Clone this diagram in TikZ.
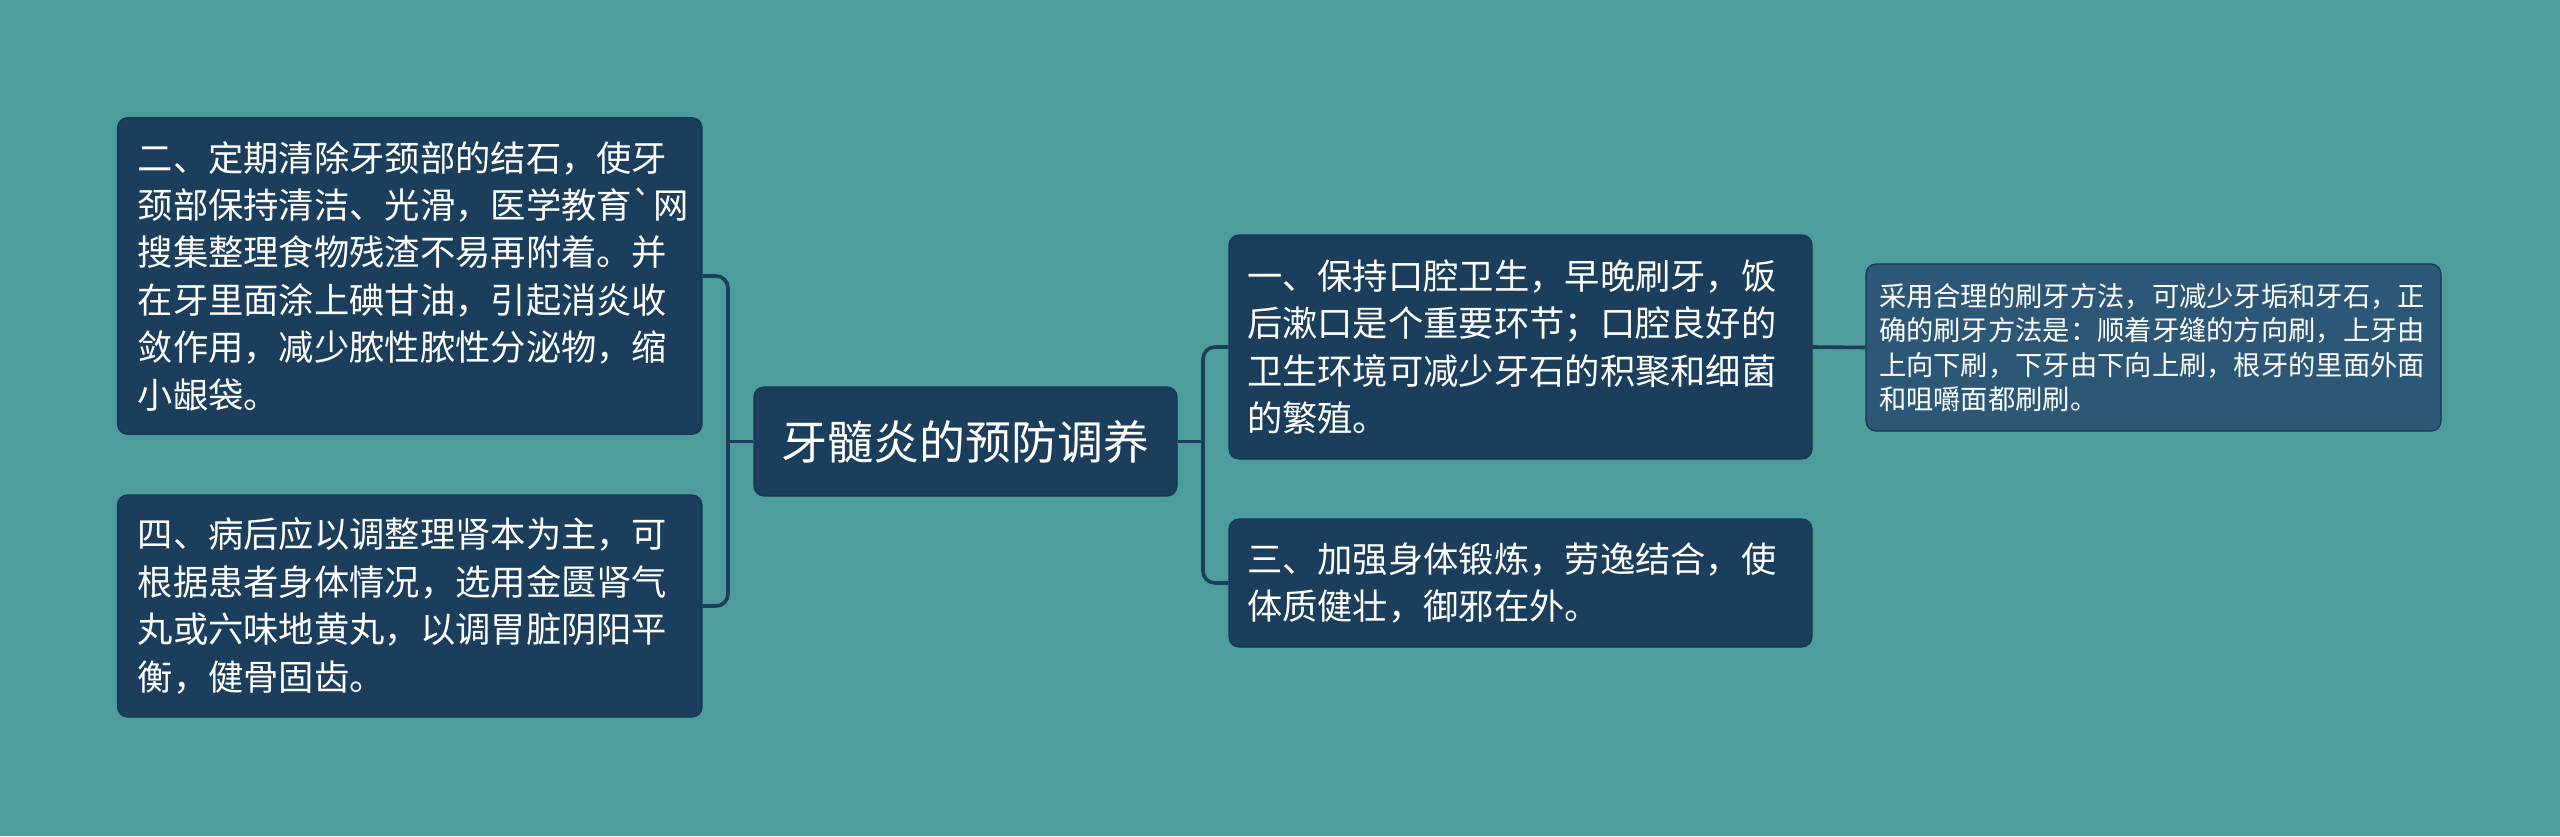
\documentclass[tikz,border=0pt]{standalone}
\usepackage{fontspec}
\newfontfamily\cjk{Noto Sans CJK SC}
\definecolor{bgteal}{HTML}{4E9D9D}
\definecolor{navy}{HTML}{1A3E5C}
\definecolor{navyedge}{HTML}{163652}
\definecolor{lightnavy}{HTML}{2D5776}
\definecolor{conncol}{HTML}{1A3E5C}
\tikzset{
  box/.style={rectangle, rounded corners=10pt, fill=navy, draw=navyedge, line width=1.2pt,
    text=white, align=left, inner xsep=0pt, inner ysep=0pt, anchor=center},
  bigbox/.style={box, font=\cjk\fontsize{35.3}{47.4}\selectfont},
  rootbox/.style={box, font=\cjk\fontsize{46}{56}\selectfont, align=center},
  smallbox/.style={box, fill=lightnavy, font=\cjk\fontsize{27.3}{34.3}\selectfont},
  conn/.style={draw=conncol, line width=3.6pt, rounded corners=12pt}
}
\begin{document}
\begin{tikzpicture}[x=1pt, y=-1pt]
\useasboundingbox (0,0) rectangle (2560,836);
\fill[bgteal] (0,0) rectangle (2560,836);

% nodes
\node[rootbox, minimum width=423pt, minimum height=109pt] (C) at (965.5,441.5) {牙髓炎的预防调养};

\node[bigbox, minimum width=584.5pt, minimum height=316.5pt, text width=544pt] (L1) at (409.75,276)
{二、定期清除牙颈部的结石，使牙\\颈部保持清洁、光滑，医学教育`网\\搜集整理食物残渣不易再附着。并\\在牙里面涂上碘甘油，引起消炎收\\敛作用，减少脓性脓性分泌物，缩\\小龈袋。};

\node[bigbox, minimum width=584.5pt, minimum height=222pt, text width=544pt] (L2) at (409.75,606)
{四、病后应以调整理肾本为主，可\\根据患者身体情况，选用金匮肾气\\丸或六味地黄丸，以调胃脏阴阳平\\衡，健骨固齿。};

\node[bigbox, minimum width=583pt, minimum height=224pt, text width=547pt] (R1) at (1520.5,347)
{一、保持口腔卫生，早晚刷牙，饭\\后漱口是个重要环节；口腔良好的\\卫生环境可减少牙石的积聚和细菌\\的繁殖。};

\node[bigbox, minimum width=583pt, minimum height=128pt, text width=547pt] (R2) at (1520.5,583)
{三、加强身体锻炼，劳逸结合，使\\体质健壮，御邪在外。};

\node[smallbox, minimum width=575pt, minimum height=167pt, text width=549pt] (FR) at (2153.5,347.5)
{采用合理的刷牙方法，可减少牙垢和牙石，正\\确的刷牙方法是：顺着牙缝的方向刷，上牙由\\上向下刷，下牙由下向上刷，根牙的里面外面\\和咀嚼面都刷刷。};

% connectors
\coordinate (lb) at (728,441.5);
\coordinate (rb) at (1203,441.5);
\begin{scope}[on background layer/.try]
\end{scope}
\draw[conn] (L1.east) -| (lb) |- (L2.east);
\draw[conn] (C.west) -- (lb);
\draw[conn] (R1.west) -| (rb) |- (R2.west);
\draw[conn] (C.east) -- (rb);
\draw[conn] (R1.east) -- (FR.west);
\end{tikzpicture}
\end{document}
